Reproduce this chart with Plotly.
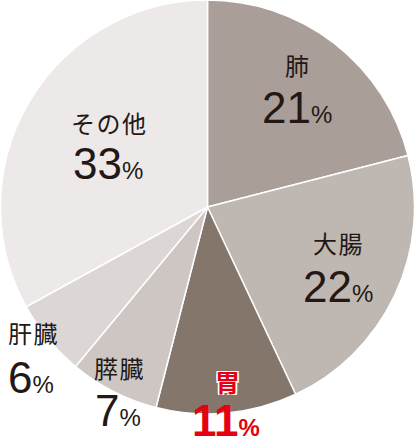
import plotly.graph_objects as go

# cancer deaths by site (%)
sites = ['肺', '大腸', '胃', '膵臓', '肝臓', 'その他']
shares = [21, 22, 11, 7, 6, 33]
slice_colors = ['#a99e98', '#bfb7b1', '#85766b', '#cdc6c3', '#dcd7d4', '#ede9e8']

W, H = 415, 445
# label anchor in pixels: (name x, name y, value x, value y)
label_pos = [
    (297, 64, 297, 107),
    (338, 242, 338, 286),
    (227, 381, 226, 420),
    (119, 367, 118, 410),
    (33, 332, 31, 377),
    (108, 122, 108, 163),
]

ink = '#231815'
red = '#e50012'
font_fam = 'Liberation Sans, Arial, Noto Sans CJK JP'

fig = go.Figure(go.Pie(
    labels=sites,
    values=shares,
    sort=False,
    direction='clockwise',
    rotation=0,
    textinfo='none',
    hoverinfo='label+percent',
    marker=dict(colors=slice_colors, line=dict(color='white', width=1.5)),
    domain=dict(x=[0, 1], y=[1 - 414 / H, 1]),
    showlegend=False,
))

annotations = []
for site, share, pos in zip(sites, shares, label_pos):
    hot = site == '胃'
    col = red if hot else ink
    shadow = ('-1.5px -1.5px 0 white, 1.5px -1.5px 0 white, '
              '-1.5px 1.5px 0 white, 1.5px 1.5px 0 white') if hot else 'none'
    nx, ny, vx, vy = pos
    annotations.append(dict(
        xref='paper', yref='paper', x=nx / W, y=1 - ny / H,
        text='\u200a'.join(site), showarrow=False,
        xanchor='center', yanchor='middle', height=28,
        font=dict(family='Noto Sans CJK JP', size=25 if hot else 24, color=col,
                  weight='bold' if hot else 'normal', shadow=shadow),
    ))
    annotations.append(dict(
        xref='paper', yref='paper', x=vx / W, y=1 - vy / H,
        text=f"<span style='font-size:44px'>{share}</span>"
             f"<span style='font-size:24px'>%</span>",
        showarrow=False, xanchor='center', yanchor='middle', height=44,
        font=dict(family=font_fam, size=44, color=col,
                  weight='bold' if hot else 'normal'),
    ))

fig.update_layout(
    width=W, height=H,
    margin=dict(l=0, r=0, t=0, b=0),
    paper_bgcolor='white',
    plot_bgcolor='white',
    annotations=annotations,
)

fig.write_html("out.html", config={'displayModeBar': False},
               post_script="document.body.style.margin='0';")
